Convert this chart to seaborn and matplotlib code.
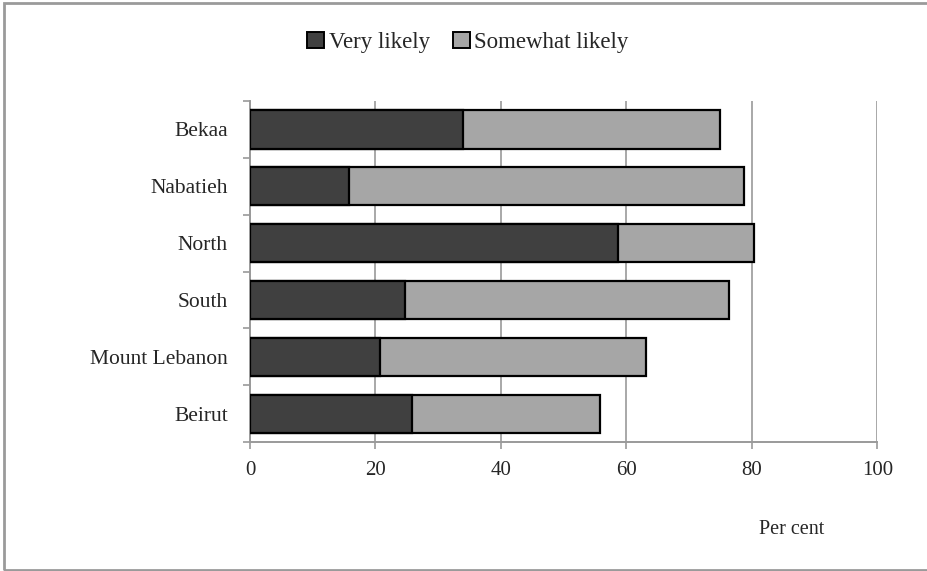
import pandas as pd
import matplotlib
matplotlib.use("Agg")
import matplotlib.pyplot as plt
from matplotlib.patches import Patch, Rectangle
import seaborn as sns

regions = ["Bekaa", "Nabatieh", "North", "South", "Mount Lebanon", "Beirut"]
very_likely = [34.0, 15.8, 58.7, 24.7, 20.7, 25.8]
somewhat_likely = [41.0, 62.9, 21.6, 51.6, 42.5, 30.0]
x_ticks = [0, 20, 40, 60, 80, 100]

sns.set_style("white")
plt.rcParams['font.family'] = ['Liberation Serif', 'DejaVu Serif']

dark = "#404040"
light = "#a6a6a6"
grey = "#9a9a9a"

df = pd.DataFrame({"region": regions, "very": very_likely, "somewhat": somewhat_likely})
df["total"] = df["very"] + df["somewhat"]

fig = plt.figure(figsize=(9.28, 5.71), dpi=100)
ax = fig.add_axes([0.2694, 0.226, 0.676, 0.597])

sns.barplot(data=df, x="total", y="region", orient="h", color=light, saturation=1,
            edgecolor="black", linewidth=1.6, width=0.67, ax=ax, zorder=3)
sns.barplot(data=df, x="very", y="region", orient="h", color=dark, saturation=1,
            edgecolor="black", linewidth=1.6, width=0.67, ax=ax, zorder=4)

ax.set_xlim(0, 100)
ax.set_ylim(len(regions) - 0.5, -0.5)
ax.set_xticks(x_ticks)
ax.set_xlabel("")
ax.set_ylabel("")
ax.grid(axis="x", color=grey, linewidth=1.2, zorder=0)
ax.set_axisbelow(True)

# y ticks between categories
ax.set_yticks([i - 0.5 for i in range(len(regions) + 1)], minor=True)
ax.tick_params(axis="y", which="major", left=True, length=0, pad=16, labelsize=15.5)
ax.tick_params(axis="y", which="minor", left=True, length=5, width=1.2, color=grey, direction="out")
ax.tick_params(axis="x", bottom=True, length=5, width=1.2, color=grey, direction="out",
               pad=9, labelsize=15)

for side in ["top", "right"]:
    ax.spines[side].set_visible(False)
for side in ["left", "bottom"]:
    ax.spines[side].set_color(grey)
    ax.spines[side].set_linewidth(1.4)

handles = [Patch(facecolor=dark, edgecolor="black", linewidth=1.4, label="Very likely"),
           Patch(facecolor=light, edgecolor="black", linewidth=1.4, label="Somewhat likely")]
fig.legend(handles=handles, loc="center", bbox_to_anchor=(0.504, 0.926), ncol=2, frameon=False,
           fontsize=16.5, handlelength=0.75, handleheight=0.75, handletextpad=0.2, columnspacing=1.0)

fig.text(0.853, 0.072, "Per cent", ha="center", va="center", fontsize=14.5)

fig.patches.append(Rectangle((0.004, 0.002), 1.2, 0.993, transform=fig.transFigure,
                             fill=False, edgecolor=grey, linewidth=2))

plt.savefig("out.png", dpi=100)
